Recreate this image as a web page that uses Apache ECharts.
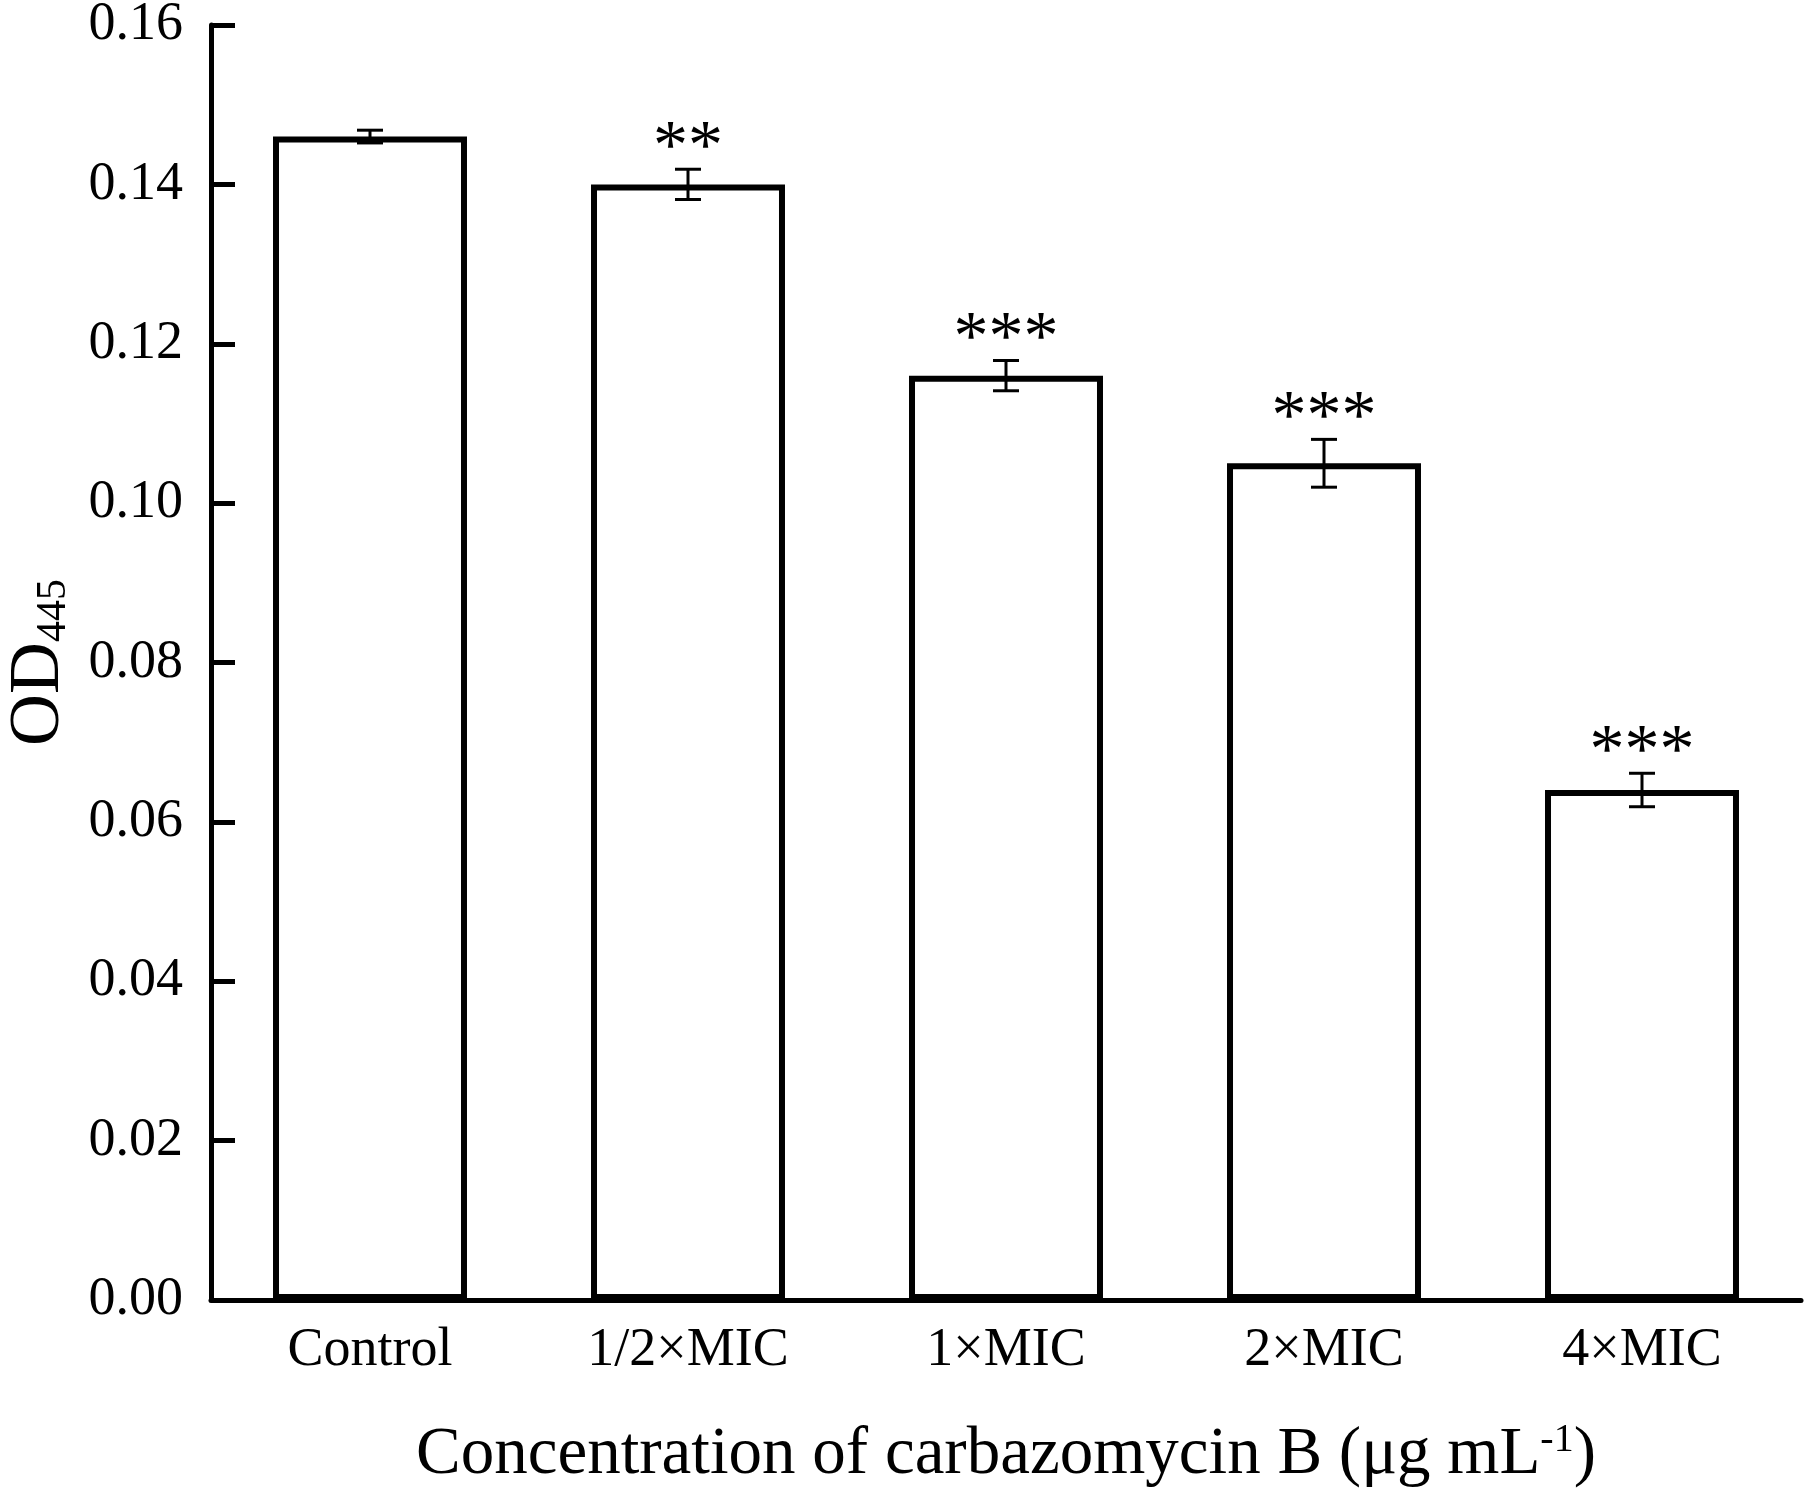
<!DOCTYPE html>
<html>
<head>
<meta charset="utf-8">
<script src="https://cdn.jsdelivr.net/npm/echarts@6/dist/echarts.min.js"></script>
<style>
html,body{margin:0;padding:0;background:#fff;}
#chart{width:1807px;height:1497px;}
</style>
</head>
<body>
<div id="chart"></div>
<script>
const categories = ['Control', '1/2×MIC', '1×MIC', '2×MIC', '4×MIC'];
const meanValues = [0.146, 0.140, 0.116, 0.105, 0.064];
const errorValues = [0.0008, 0.0019, 0.0019, 0.003, 0.0021];
const significance = ['', '**', '***', '***', '***'];
const yTicks = { min: 0, max: 0.16, interval: 0.02 };

const FONT = '"Liberation Serif", "Times New Roman", serif';
const chart = echarts.init(document.getElementById('chart'));

const errData = meanValues.map((m, i) => [i, m, errorValues[i]]);

chart.setOption({
  backgroundColor: '#ffffff',
  animation: false,
  grid: { left: 211, right: 6, top: 25, bottom: 197, containLabel: false, outerBoundsMode: 'none' },
  xAxis: {
    type: 'category',
    data: categories,
    boundaryGap: true,
    axisLine: { lineStyle: { color: '#000', width: 5 } },
    axisTick: { show: false },
    axisLabel: { color: '#000', fontFamily: FONT, fontSize: 54, margin: 24 },
    name: 'Concentration of carbazomycin B (μg mL{sup|-1})',
    nameLocation: 'middle',
    nameGap: 120,
    nameTextStyle: {
      color: '#000', fontFamily: FONT, fontSize: 67,
      rich: { sup: { fontFamily: FONT, fontSize: 40, color: '#000', verticalAlign: 'top', padding: [0, 0, 30, 0] } }
    }
  },
  yAxis: {
    type: 'value',
    min: yTicks.min, max: yTicks.max, interval: yTicks.interval,
    axisLine: { show: true, lineStyle: { color: '#000', width: 5 } },
    axisTick: { show: true, inside: true, length: 24, lineStyle: { color: '#000', width: 5 } },
    splitLine: { show: false },
    axisLabel: { color: '#000', fontFamily: FONT, fontSize: 54, margin: 28, formatter: v => v.toFixed(2) },
    name: '{a|OD}{b|445}',
    nameLocation: 'middle',
    nameRotate: 90,
    nameGap: 136,
    nameTextStyle: {
      color: '#000',
      rich: {
        a: { fontFamily: FONT, fontSize: 72, color: '#000' },
        b: { fontFamily: FONT, fontSize: 42, color: '#000', verticalAlign: 'bottom', padding: [30, 0, 0, 0] }
      }
    }
  },
  series: [
    {
      type: 'bar',
      data: meanValues,
      barWidth: '61%',
      itemStyle: { color: '#ffffff', borderColor: '#000', borderWidth: 6 },
      z: 2
    },
    {
      type: 'custom',
      data: errData,
      z: 5,
      renderItem: function (params, api) {
        const i = api.value(0), m = api.value(1), e = api.value(2);
        const sig = significance[i];
        const top = api.coord([i, m + e]);
        const bot = api.coord([i, m - e]);
        const cap = 13;
        const ls = { stroke: '#000', lineWidth: 3 };
        const children = [
          { type: 'line', shape: { x1: top[0], y1: top[1], x2: bot[0], y2: bot[1] }, style: ls },
          { type: 'line', shape: { x1: top[0] - cap, y1: top[1], x2: top[0] + cap, y2: top[1] }, style: ls },
          { type: 'line', shape: { x1: bot[0] - cap, y1: bot[1], x2: bot[0] + cap, y2: bot[1] }, style: ls }
        ];
        if (sig) {
          children.push({
            type: 'text',
            style: {
              text: sig, x: top[0], y: top[1] + 15,
              align: 'center', verticalAlign: 'bottom',
              font: '70px ' + FONT, fill: '#000'
            }
          });
        }
        return { type: 'group', children: children };
      }
    }
  ]
});
</script>
</body>
</html>
